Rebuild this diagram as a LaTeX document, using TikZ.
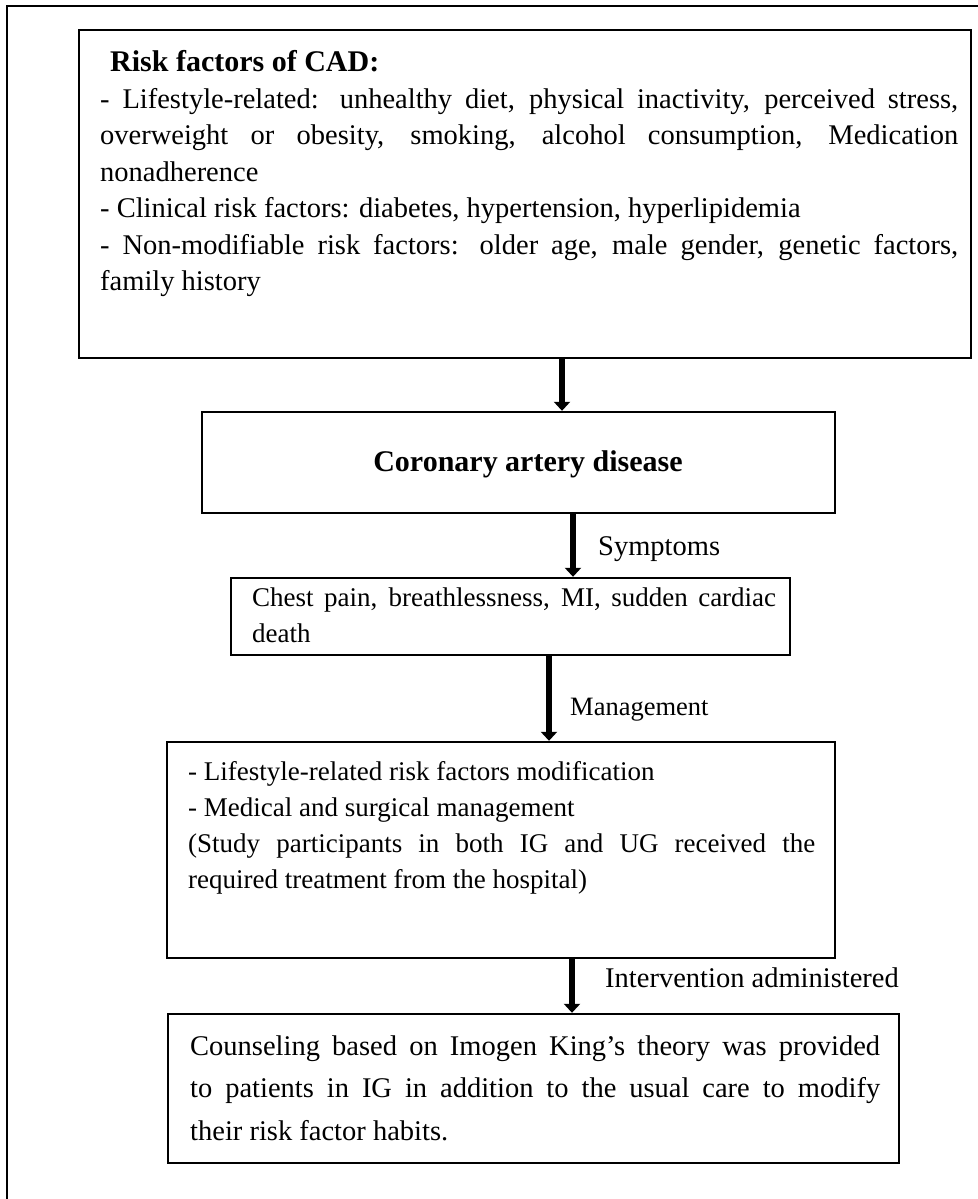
\documentclass[tikz,border=0pt]{standalone}
\usepackage{fontspec}
\setmainfont{Liberation Serif}
\usetikzlibrary{arrows.meta}
\tolerance=10000
\hyphenpenalty=10000
\exhyphenpenalty=10000
\newcommand{\risksize}{\fontsize{28.5}{36.5}\selectfont}
\newcommand{\bodysize}{\fontsize{27}{36.2}\selectfont}
\newcommand{\largesize}{\fontsize{28.5}{42.5}\selectfont}
\newcommand{\headsize}{\fontsize{30}{36.5}\selectfont}
\begin{document}
\begin{tikzpicture}[x=1pt,y=-1pt,
  frameline/.style={line width=1.8pt},
  box/.style={draw, line width=2.4pt, rectangle, inner sep=0pt},
  boxtext/.style={inner sep=0pt, anchor=north west, align=justify},
  flowarrow/.style={line width=6pt, -{Triangle[width=16pt,length=9pt]}},
  steplabel/.style={inner sep=0pt, anchor=base west}]
\useasboundingbox (0,0) rectangle (977,1199);

% outer frame (left and top edges)
\draw[frameline] (7,1215) -- (7,6) -- (995,6);

% boxes
\node[box, minimum width=892, minimum height=328] (risk) at (525,194) {};
\node[box, minimum width=633, minimum height=101] (cad) at (518.5,462.5) {};
\node[box, minimum width=559, minimum height=77] (symp) at (510.5,616.5) {};
\node[box, minimum width=668, minimum height=216] (mgmt) at (501,850) {};
\node[box, minimum width=731, minimum height=149] (couns) at (533.5,1088.5) {};

% box texts
\node[boxtext, text width=858, font=\risksize] (risktext) at (100,46) {\strut\hspace*{10pt}{\headsize\bfseries Risk factors of CAD:}\newline
- Lifestyle-related: unhealthy diet, physical inactivity, perceived stress,\linebreak
overweight or obesity, smoking, alcohol consumption, Medication\linebreak
nonadherence\newline
- Clinical risk factors: diabetes, hypertension, hyperlipidemia\newline
- Non-modifiable risk factors: older age, male gender, genetic factors,\linebreak
family history};

\node[inner sep=0pt, anchor=base, font=\headsize\bfseries] (cadtext) at (528,471) {Coronary artery disease};

\node[boxtext, text width=524, font=\bodysize] (symptext) at (252,580.5) {\strut Chest pain, breathlessness, MI, sudden cardiac\linebreak death};

\node[boxtext, text width=627, font=\bodysize] (mgmttext) at (188,754.5) {\strut - Lifestyle-related risk factors modification\newline
- Medical and surgical management\newline
(Study participants in both IG and UG received the\linebreak
required treatment from the hospital)};

\node[boxtext, text width=690, font=\largesize] (counstext) at (190,1025.5) {\strut Counseling based on Imogen King’s theory was provided\linebreak
to patients in IG in addition to the usual care to modify\linebreak
their risk factor habits.};

% connectors
\coordinate (a1) at (562,0);
\coordinate (a2) at (573,0);
\coordinate (a3) at (549,0);
\coordinate (a4) at (572,0);
\draw[flowarrow] (risk.south -| a1) -- (cad.north -| a1);
\draw[flowarrow] (cad.south -| a2) -- (symp.north -| a2);
\draw[flowarrow] (symp.south -| a3) -- (mgmt.north -| a3);
\draw[flowarrow] (mgmt.south -| a4) -- (couns.north -| a4);

% connector labels
\node[steplabel, font=\fontsize{28.5}{30}\selectfont] (lsymp) at (598,555) {Symptoms};
\node[steplabel, font=\fontsize{26.5}{30}\selectfont] (lmgmt) at (570,715) {Management};
\node[steplabel, font=\fontsize{28.5}{30}\selectfont] (lint) at (605,987) {Intervention administered};
\end{tikzpicture}
\end{document}
